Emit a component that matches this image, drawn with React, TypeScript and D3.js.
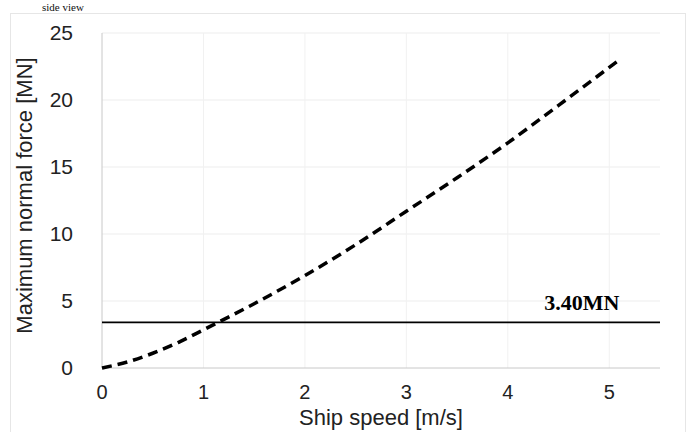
import React from 'react';
import * as d3 from 'd3';

// ship speed [m/s] vs maximum normal force [MN]
const speeds = [0, 0.25, 0.5, 0.75, 1, 1.5, 2, 2.5, 3, 3.5, 4, 4.5, 5.1];
const forces = [0, 0.45, 1.1, 1.9, 2.85, 4.8, 6.9, 9.2, 11.7, 14.2, 16.8, 19.6, 23.0];
const xTicks = [0, 1, 2, 3, 4, 5];
const yTicks = [0, 5, 10, 15, 20, 25];
const limitValue = 3.4;
const limitLabel = '3.40MN';

const W = 689;
const H = 432;
const margin = { top: 33, right: 29, bottom: 64, left: 102 };

export default function App() {
	const x = d3.scaleLinear().domain([0, 5.5]).range([margin.left, W - margin.right]);
	const y = d3.scaleLinear().domain([0, 25]).range([H - margin.bottom, margin.top]);

	const pts = speeds.map((s, i) => [s, forces[i]] as [number, number]);
	const line = d3.line<[number, number]>()
		.x(d => x(d[0]))
		.y(d => y(d[1]))
		.curve(d3.curveMonotoneX);

	const sans = '"Liberation Sans", Arial, sans-serif';
	const serif = '"Liberation Serif", "Times New Roman", serif';

	return (
		<svg width={W} height={H} style={{ position: 'absolute', left: 0, top: 0, background: '#fff' }}>
			{/* caption left over from the scan above the chart */}
			<text x={42} y={11} fontFamily={serif} fontSize={11} fill="#111">side view</text>
			<rect x={10.5} y={13.5} width={W - 14} height={H - 10} fill="none" stroke="#e6e6e6" />

			{/* gridlines */}
			{yTicks.filter(t => t > 0).map(t => (
				<line key={'gy' + t} x1={x(0)} x2={x(5.5)} y1={y(t)} y2={y(t)} stroke="#ededed" strokeWidth={1} />
			))}
			{xTicks.filter(t => t > 0).map(t => (
				<line key={'gx' + t} x1={x(t)} x2={x(t)} y1={y(0)} y2={y(25)} stroke="#f1f1f1" strokeWidth={1} />
			))}

			{/* axes */}
			<line x1={x(0)} x2={x(0)} y1={y(0)} y2={y(25)} stroke="#c8c8c8" />
			<line x1={x(0)} x2={x(5.5)} y1={y(0)} y2={y(0)} stroke="#c8c8c8" />

			{yTicks.map(t => (
				<text key={'ty' + t} x={x(0) - 29} y={y(t)} dy="0.35em" textAnchor="end"
					fontFamily={sans} fontSize={21} fill="#222">{t}</text>
			))}
			{xTicks.map(t => (
				<text key={'tx' + t} x={x(t)} y={y(0) + 31} textAnchor="middle"
					fontFamily={sans} fontSize={20} fill="#222">{t}</text>
			))}

			<text x={(x(0) + x(5.5)) / 2} y={H - 7} textAnchor="middle"
				fontFamily={sans} fontSize={22} fill="#222">Ship speed [m/s]</text>
			<text transform={`translate(32,${(y(0) + y(25)) / 2 - 5}) rotate(-90)`} textAnchor="middle"
				fontFamily={sans} fontSize={22} fill="#222">Maximum normal force [MN]</text>

			{/* limit line */}
			<line x1={x(0)} x2={x(5.5)} y1={y(limitValue)} y2={y(limitValue)} stroke="#000" strokeWidth={1.8} />
			<text x={x(4.36)} y={y(limitValue) - 12} fontFamily={serif} fontWeight="bold" fontSize={22} fill="#000">{limitLabel}</text>

			{/* force curve */}
			<path d={line(pts) || ''} fill="none" stroke="#000" strokeWidth={3.5} strokeDasharray="10,6" />
		</svg>
	);
}
